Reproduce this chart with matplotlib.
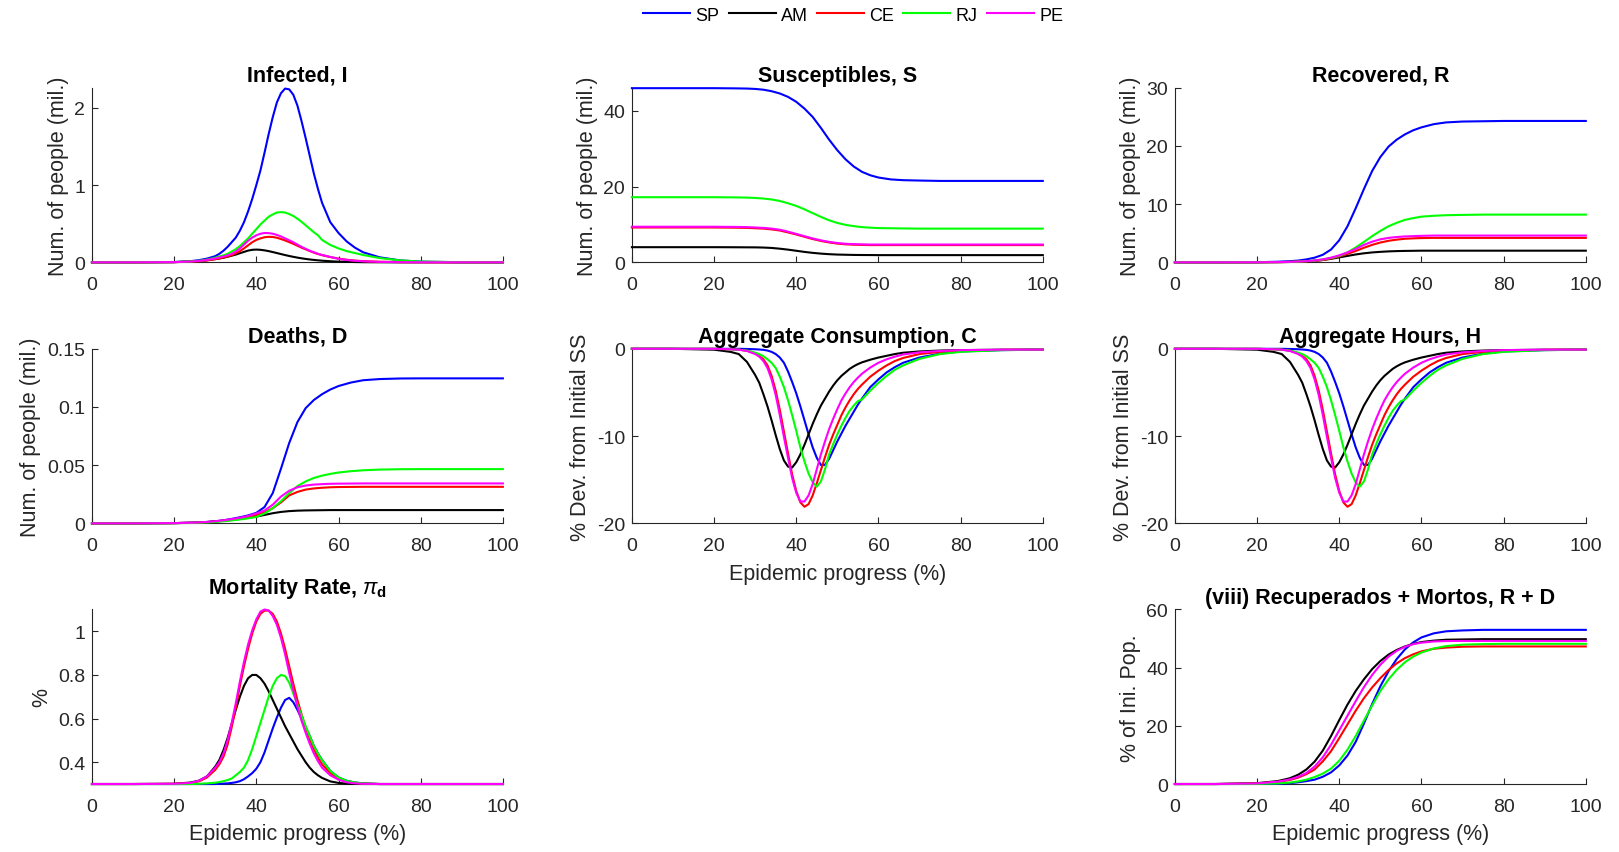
import matplotlib
matplotlib.use('Agg')
import matplotlib.pyplot as plt
from matplotlib.ticker import FuncFormatter

plt.rcParams['font.family'] = ['Liberation Sans', 'DejaVu Sans']
plt.rcParams['mathtext.fontset'] = 'custom'
plt.rcParams['mathtext.rm'] = 'Liberation Sans'
plt.rcParams['mathtext.it'] = 'Liberation Sans:italic'
plt.rcParams['mathtext.bf'] = 'Liberation Sans:bold'

# epidemic progress (%) at which the curves were read
# coarse grid for the s-shaped panels
progress = [0, 10, 20, 25, 28, 30, 32, 34, 36, 38, 40, 42, 44, 46, 48, 50,
            52, 54, 56, 58, 60, 63, 66, 70, 75, 80, 90, 100]
# finer grid for the peaked panels
progress_fine = [0, 10, 20, 24, 26, 28, 30, 31, 32, 33, 34, 35, 36, 37, 38, 39, 40,
                 41, 42, 43, 44, 45, 46, 47, 48, 49, 50, 51, 52, 53, 54, 55, 56,
                 58, 60, 62, 64, 66, 70, 75, 80, 90, 100]

regions = ['SP', 'AM', 'CE', 'RJ', 'PE']
colors = {'SP': '#0000ff', 'AM': '#000000', 'CE': '#ff0000',
          'RJ': '#00ff00', 'PE': '#ff00ff'}

infected = {
    'SP': [0, 0, 0.003, 0.015, 0.028, 0.048, 0.08, 0.11, 0.15, 0.20, 0.26, 0.32, 0.41, 0.52,
           0.66, 0.82, 1.00, 1.19, 1.42, 1.66, 1.88, 2.07, 2.19, 2.25, 2.24, 2.17, 2.03,
           1.83, 1.61, 1.38, 1.15, 0.95, 0.77, 0.52, 0.38, 0.27, 0.19, 0.13, 0.065, 0.025,
           0.009, 0.001, 0],
    'AM': [0, 0, 0.003, 0.01, 0.016, 0.027, 0.042, 0.05, 0.06, 0.072, 0.086, 0.10, 0.118,
           0.135, 0.152, 0.162, 0.165, 0.162, 0.155, 0.145, 0.133, 0.12, 0.107, 0.094, 0.082,
           0.071, 0.061, 0.052, 0.044, 0.037, 0.031, 0.026, 0.021, 0.014, 0.009, 0.006,
           0.004, 0.002, 0.001, 0, 0, 0, 0],
    'CE': [0, 0, 0.002, 0.008, 0.014, 0.024, 0.04, 0.05, 0.062, 0.076, 0.093, 0.115, 0.145,
           0.18, 0.22, 0.26, 0.29, 0.31, 0.325, 0.33, 0.328, 0.318, 0.302, 0.283, 0.262,
           0.24, 0.215, 0.19, 0.168, 0.146, 0.126, 0.108, 0.093, 0.068, 0.048, 0.033, 0.022,
           0.015, 0.007, 0.003, 0.001, 0, 0],
    'RJ': [0, 0, 0.003, 0.012, 0.02, 0.035, 0.06, 0.075, 0.09, 0.11, 0.14, 0.17, 0.21, 0.26,
           0.31, 0.37, 0.43, 0.49, 0.54, 0.59, 0.62, 0.645, 0.65, 0.645, 0.625, 0.60, 0.565,
           0.525, 0.48, 0.435, 0.39, 0.35, 0.29, 0.225, 0.18, 0.145, 0.12, 0.095, 0.055,
           0.025, 0.01, 0.001, 0],
    'PE': [0, 0, 0.003, 0.01, 0.018, 0.03, 0.05, 0.062, 0.075, 0.09, 0.11, 0.14, 0.18, 0.23,
           0.28, 0.32, 0.35, 0.37, 0.38, 0.378, 0.37, 0.355, 0.335, 0.31, 0.285, 0.26, 0.23,
           0.20, 0.175, 0.15, 0.13, 0.11, 0.095, 0.07, 0.045, 0.03, 0.02, 0.013, 0.006,
           0.002, 0.001, 0, 0],
}

susceptibles = {
    'SP': [46.0, 46.0, 46.0, 45.95, 45.9, 45.8, 45.6, 45.2, 44.6, 43.7, 42.4, 40.6, 38.4, 35.5,
           32.4, 29.6, 27.2, 25.3, 23.9, 23.0, 22.4, 21.9, 21.7, 21.6, 21.5, 21.5, 21.5, 21.5],
    'AM': [4.0, 4.0, 4.0, 3.98, 3.96, 3.95, 3.9, 3.8, 3.6, 3.35, 3.05, 2.75, 2.5, 2.3,
           2.15, 2.05, 2.0, 1.95, 1.93, 1.92, 1.9, 1.9, 1.9, 1.9, 1.9, 1.9, 1.9, 1.9],
    'CE': [9.2, 9.2, 9.2, 9.15, 9.1, 9.0, 8.9, 8.7, 8.4, 7.9, 7.35, 6.75, 6.15, 5.65,
           5.25, 4.95, 4.75, 4.65, 4.6, 4.55, 4.55, 4.55, 4.55, 4.55, 4.55, 4.55, 4.55, 4.55],
    'RJ': [17.2, 17.2, 17.2, 17.15, 17.1, 17.0, 16.85, 16.6, 16.2, 15.6, 14.9, 14.0, 13.0, 12.0,
           11.1, 10.4, 9.9, 9.55, 9.3, 9.15, 9.05, 9.0, 8.95, 8.9, 8.9, 8.9, 8.9, 8.9],
    'PE': [9.4, 9.4, 9.4, 9.35, 9.3, 9.2, 9.1, 8.9, 8.6, 8.1, 7.5, 6.9, 6.3, 5.8,
           5.4, 5.1, 4.9, 4.8, 4.75, 4.7, 4.7, 4.7, 4.7, 4.7, 4.7, 4.7, 4.7, 4.7],
}

recovered = {
    'SP': [0, 0, 0.02, 0.1, 0.2, 0.3, 0.5, 0.8, 1.3, 2.2, 3.8, 6.2, 9.3, 12.6,
           15.7, 18.1, 19.9, 21.1, 22.0, 22.7, 23.2, 23.75, 24.05, 24.2, 24.25, 24.3, 24.3, 24.3],
    'AM': [0, 0, 0.01, 0.03, 0.06, 0.1, 0.16, 0.25, 0.4, 0.6, 0.85, 1.1, 1.35, 1.55,
           1.7, 1.8, 1.88, 1.93, 1.96, 1.98, 2.0, 2.0, 2.0, 2.0, 2.0, 2.0, 2.0, 2.0],
    'CE': [0, 0, 0.01, 0.03, 0.06, 0.1, 0.16, 0.26, 0.4, 0.65, 1.0, 1.45, 1.95, 2.5,
           3.0, 3.4, 3.7, 3.9, 4.05, 4.12, 4.17, 4.2, 4.2, 4.2, 4.2, 4.2, 4.2, 4.2],
    'RJ': [0, 0, 0.01, 0.04, 0.08, 0.12, 0.2, 0.32, 0.5, 0.75, 1.1, 1.7, 2.55, 3.5,
           4.5, 5.4, 6.2, 6.8, 7.3, 7.6, 7.85, 8.0, 8.1, 8.15, 8.2, 8.2, 8.2, 8.2],
    'PE': [0, 0, 0.01, 0.04, 0.08, 0.13, 0.2, 0.32, 0.5, 0.8, 1.2, 1.7, 2.3, 3.0,
           3.55, 3.95, 4.2, 4.35, 4.45, 4.5, 4.55, 4.6, 4.6, 4.6, 4.6, 4.6, 4.6, 4.6],
}

deaths = {
    'SP': [0, 0, 0.0002, 0.0006, 0.0012, 0.0018, 0.0026, 0.0038, 0.0052, 0.0068, 0.009, 0.014,
           0.026, 0.047, 0.069, 0.087, 0.099, 0.106, 0.111, 0.115, 0.118, 0.121, 0.123, 0.124,
           0.1245, 0.1246, 0.1246, 0.1246],
    'AM': [0, 0, 0.0002, 0.0006, 0.0011, 0.0016, 0.0022, 0.003, 0.0039, 0.0048, 0.0058, 0.0072,
           0.0087, 0.0098, 0.0105, 0.0109, 0.0111, 0.0112, 0.0113, 0.0114, 0.0114, 0.0114,
           0.0114, 0.0114, 0.0114, 0.0114, 0.0114, 0.0114],
    'CE': [0, 0, 0.0002, 0.0005, 0.001, 0.0016, 0.0023, 0.0032, 0.0043, 0.0056, 0.0072, 0.0095,
           0.013, 0.018, 0.024, 0.027, 0.029, 0.030, 0.0306, 0.031, 0.0312, 0.0313, 0.0314,
           0.0314, 0.0314, 0.0314, 0.0314, 0.0314],
    'RJ': [0, 0, 0.0001, 0.0004, 0.0008, 0.0012, 0.0018, 0.0025, 0.0033, 0.0043, 0.0055, 0.0085,
           0.013, 0.019, 0.026, 0.032, 0.036, 0.039, 0.041, 0.0425, 0.0437, 0.0448, 0.0456,
           0.0462, 0.0465, 0.0466, 0.0466, 0.0466],
    'PE': [0, 0, 0.0002, 0.0006, 0.0012, 0.0018, 0.0026, 0.0036, 0.0048, 0.0063, 0.0085, 0.011,
           0.016, 0.023, 0.028, 0.031, 0.0325, 0.0333, 0.0337, 0.034, 0.0341, 0.0342, 0.0343,
           0.0343, 0.0343, 0.0343, 0.0343, 0.0343],
}

consumption = {
    'SP': [0, 0, 0, 0, 0, -0.02, -0.05, -0.08, -0.12, -0.2, -0.35, -0.6, -1.0, -1.6, -2.6,
           -3.8, -5.1, -6.6, -8.2, -9.8, -11.3, -12.5, -13.3, -13.3, -12.6, -11.6, -10.6,
           -9.7, -8.8, -8.0, -7.2, -6.4, -5.7, -4.4, -3.5, -2.7, -2.1, -1.6, -1.0, -0.55,
           -0.3, -0.15, -0.1],
    'AM': [0, 0, -0.1, -0.35, -0.6, -1.5, -3.0, -3.9, -5.2, -6.6, -8.2, -9.9, -11.5, -12.8,
           -13.5, -13.6, -13.0, -12.1, -11.0, -9.8, -8.6, -7.5, -6.5, -5.7, -4.9, -4.2, -3.6,
           -3.1, -2.7, -2.3, -2.0, -1.75, -1.55, -1.25, -1.0, -0.8, -0.6, -0.45, -0.3, -0.2,
           -0.15, -0.1, -0.1],
    'CE': [0, 0, 0, -0.05, -0.1, -0.2, -0.5, -0.8, -1.2, -1.9, -3.1, -4.8, -7.0, -9.5, -12.0,
           -14.4, -16.3, -17.6, -18.1, -17.8, -16.8, -15.4, -13.9, -12.4, -11.0, -9.8, -8.7,
           -7.6, -6.7, -5.9, -5.2, -4.6, -4.1, -3.2, -2.5, -1.9, -1.4, -1.05, -0.6, -0.35,
           -0.2, -0.12, -0.1],
    'RJ': [0, 0, 0, -0.05, -0.1, -0.2, -0.45, -0.6, -0.85, -1.2, -1.6, -2.2, -3.2, -4.4, -5.9,
           -7.6, -9.4, -11.3, -12.9, -14.3, -15.3, -15.8, -15.2, -13.8, -12.1, -10.9, -9.8,
           -8.8, -7.9, -7.1, -6.5, -6.0, -5.8, -4.8, -3.9, -3.1, -2.4, -1.9, -1.15, -0.6,
           -0.35, -0.15, -0.1],
    'PE': [0, 0, 0, -0.05, -0.1, -0.25, -0.6, -0.9, -1.4, -2.2, -3.5, -5.3, -7.6, -10.1, -12.5,
           -14.8, -16.5, -17.5, -17.5, -16.8, -15.5, -13.8, -12.1, -10.6, -9.2, -8.0, -6.9,
           -5.9, -5.1, -4.4, -3.8, -3.3, -2.85, -2.15, -1.6, -1.2, -0.9, -0.65, -0.4, -0.25,
           -0.15, -0.1, -0.1],
}

# aggregate hours read the same as consumption in the picture
hours = {reg: list(vals) for reg, vals in consumption.items()}

mortality = {
    'SP': [0.3, 0.3, 0.3, 0.3, 0.3, 0.3, 0.3, 0.301, 0.302, 0.303, 0.305, 0.308, 0.313,
           0.322, 0.335, 0.35, 0.37, 0.40, 0.445, 0.50, 0.555, 0.605, 0.65, 0.685, 0.695,
           0.675, 0.64, 0.60, 0.56, 0.52, 0.475, 0.44, 0.41, 0.36, 0.33, 0.315, 0.307, 0.303,
           0.3, 0.3, 0.3, 0.3, 0.3],
    'AM': [0.3, 0.3, 0.301, 0.307, 0.315, 0.335, 0.38, 0.41, 0.455, 0.51, 0.575, 0.64, 0.70,
           0.75, 0.785, 0.80, 0.80, 0.785, 0.76, 0.725, 0.685, 0.645, 0.605, 0.565, 0.53,
           0.495, 0.46, 0.43, 0.40, 0.375, 0.355, 0.34, 0.328, 0.312, 0.305, 0.302, 0.301,
           0.3, 0.3, 0.3, 0.3, 0.3, 0.3],
    'CE': [0.3, 0.3, 0.301, 0.304, 0.312, 0.33, 0.365, 0.39, 0.425, 0.48, 0.56, 0.65, 0.75,
           0.84, 0.92, 0.99, 1.045, 1.08, 1.095, 1.095, 1.08, 1.045, 0.99, 0.92, 0.84, 0.76,
           0.685, 0.62, 0.56, 0.505, 0.46, 0.42, 0.39, 0.35, 0.325, 0.312, 0.305, 0.302, 0.3,
           0.3, 0.3, 0.3, 0.3],
    'RJ': [0.3, 0.3, 0.3, 0.3, 0.301, 0.303, 0.306, 0.309, 0.313, 0.318, 0.325, 0.34, 0.355,
           0.375, 0.41, 0.46, 0.52, 0.58, 0.64, 0.70, 0.75, 0.785, 0.80, 0.795, 0.765, 0.715,
           0.665, 0.615, 0.565, 0.52, 0.475, 0.44, 0.41, 0.36, 0.33, 0.315, 0.307, 0.303,
           0.3, 0.3, 0.3, 0.3, 0.3],
    'PE': [0.3, 0.3, 0.301, 0.305, 0.315, 0.335, 0.375, 0.40, 0.44, 0.50, 0.58, 0.67, 0.77,
           0.86, 0.94, 1.005, 1.055, 1.09, 1.10, 1.095, 1.07, 1.03, 0.97, 0.895, 0.81, 0.73,
           0.655, 0.59, 0.535, 0.485, 0.44, 0.405, 0.375, 0.34, 0.32, 0.308, 0.303, 0.301,
           0.3, 0.3, 0.3, 0.3, 0.3],
}

rec_plus_dead = {
    'SP': [0, 0, 0.02, 0.1, 0.3, 0.6, 1.0, 1.5, 2.5, 4.0, 6.4, 9.8, 14.5, 20.8,
           27.5, 33.6, 38.8, 43.0, 46.3, 48.7, 50.4, 51.8, 52.5, 52.8, 53.0, 53.0, 53.0, 53.0],
    'AM': [0, 0, 0.3, 1.0, 2.0, 3.2, 5.0, 7.7, 11.5, 16.5, 22.0, 27.3, 32.0, 36.0,
           39.5, 42.3, 44.5, 46.1, 47.3, 48.2, 48.8, 49.3, 49.6, 49.7, 49.8, 49.8, 49.8, 49.8],
    'CE': [0, 0, 0.2, 0.7, 1.4, 2.2, 3.4, 5.0, 7.8, 11.3, 15.8, 20.5, 25.2, 29.5,
           33.2, 36.4, 39.2, 41.5, 43.3, 44.6, 45.6, 46.5, 46.9, 47.2, 47.3, 47.3, 47.3, 47.3],
    'RJ': [0, 0, 0.05, 0.2, 0.5, 0.9, 1.5, 2.4, 3.6, 5.3, 8.0, 11.8, 16.5, 21.8,
           27.0, 32.0, 36.0, 39.3, 41.9, 43.8, 45.2, 46.6, 47.4, 47.9, 48.1, 48.2, 48.2, 48.2],
    'PE': [0, 0, 0.2, 0.8, 1.6, 2.5, 3.8, 6.0, 9.2, 13.5, 18.5, 23.5, 28.5, 33.3,
           37.5, 41.0, 43.8, 45.8, 47.2, 48.1, 48.6, 49.0, 49.15, 49.2, 49.2, 49.2, 49.2, 49.2],
}

people = 'Num. of people (mil.)'
dev = '% Dev. from Initial SS'
xlab = 'Epidemic progress (%)'

# (x grid, data, title, ylabel, xlabel, ylim, yticks, row, col)
panels = [
    (progress_fine, infected, 'Infected, I', people, None, (0, 2.26), [0, 1, 2], 0, 0),
    (progress, susceptibles, 'Susceptibles, S', people, None, (0, 46.1), [0, 20, 40], 0, 1),
    (progress, recovered, 'Recovered, R', people, None, (0, 30), [0, 10, 20, 30], 0, 2),
    (progress, deaths, 'Deaths, D', people, None, (0, 0.15), [0, 0.05, 0.1, 0.15], 1, 0),
    (progress_fine, consumption, 'Aggregate Consumption, C', dev, xlab, (-20, 0),
     [-20, -10, 0], 1, 1),
    (progress_fine, hours, 'Aggregate Hours, H', dev, None, (-20, 0), [-20, -10, 0], 1, 2),
    (progress_fine, mortality, r'Mortality Rate, $\pi_{\mathbf{d}}$', '%', xlab, (0.3, 1.1),
     [0.4, 0.6, 0.8, 1], 2, 0),
    (progress, rec_plus_dead, '(viii) Recuperados + Mortos, R + D', '% of Ini. Pop.', xlab,
     (0, 60), [0, 20, 40, 60], 2, 2),
]

col_left = [0.0568, 0.3903, 0.7257]
row_bottom = [0.6913, 0.3853, 0.0797]
width, height = 0.2538, 0.2046
dark = '#262626'

fig = plt.figure(figsize=(16.19, 8.53), dpi=100)
handles = []
for xs, data, title, ylabel, xlabel, ylim, yticks, row, col in panels:
    ax = fig.add_axes([col_left[col], row_bottom[row], width, height])
    lines = []
    for reg in regions:
        ln, = ax.plot(xs, data[reg], color=colors[reg], linewidth=1.5,
                      clip_on=False, zorder=3)
        lines.append(ln)
    if not handles:
        handles = lines
    ax.set_xlim(0, 100)
    ax.set_ylim(*ylim)
    ax.set_xticks([0, 20, 40, 60, 80, 100])
    ax.set_yticks(yticks)
    ax.yaxis.set_major_formatter(FuncFormatter(lambda v, p: '%g' % v))
    for side in ['top', 'right']:
        ax.spines[side].set_visible(False)
    for side in ['left', 'bottom']:
        ax.spines[side].set_color(dark)
        ax.spines[side].set_linewidth(0.8)
    ax.tick_params(direction='in', length=4, width=0.8, colors=dark, labelsize=14)
    ax.tick_params(axis='x', pad=10)
    ax.tick_params(axis='y', pad=5)
    pad = 12 if 'Mortality' in title else 5
    ax.set_title(title, fontsize=15.5, fontweight='bold', pad=pad)
    ax.set_ylabel(ylabel, fontsize=15.5, color=dark, labelpad=4)
    if xlabel:
        ax.set_xlabel(xlabel, fontsize=15.5, color=dark, labelpad=6)

fig.legend(handles, regions, loc='center', bbox_to_anchor=(0.527, 0.981), ncol=5,
           frameon=False, fontsize=13, handlelength=2.6, handletextpad=0.3,
           columnspacing=0.5)

fig.savefig('out.png', dpi=100)
